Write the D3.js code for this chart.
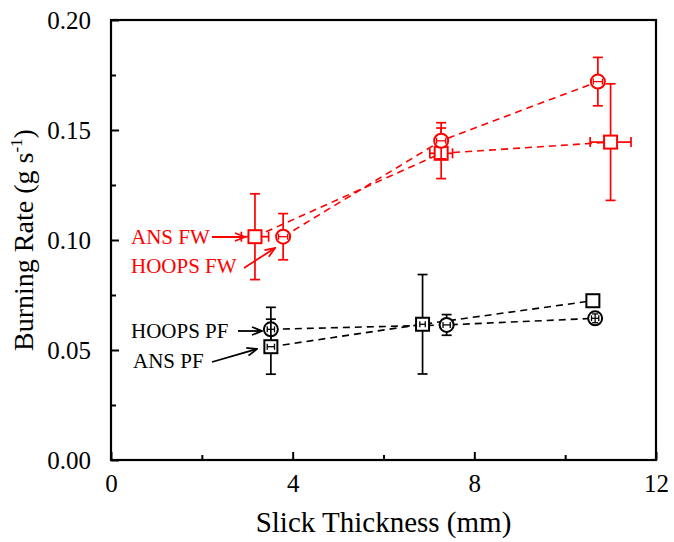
<!DOCTYPE html>
<html>
<head>
<meta charset="utf-8">
<script src="https://cdn.jsdelivr.net/npm/d3@7"></script>
<style>
  html, body { margin: 0; padding: 0; background: #fff; }
  svg { display: block; }
  text { font-family: "Liberation Serif", "Times New Roman", serif; }
</style>
</head>
<body>
<div id="chart"></div>
<script>
// Slick thickness (mm) and burning rate (g/s) for each case, with error bars
const ansFwX     = [3.17, 7.27, 11.0];
const ansFwY     = [0.1015, 0.1394, 0.1445];
const ansFwXErr  = [0.30, 0.25, 0.45];
const ansFwYErr  = [0.0195, 0.0115, 0.0265];

const hoopsFwX    = [3.79, 7.27, 10.72];
const hoopsFwY    = [0.1015, 0.1451, 0.172];
const hoopsFwXErr = [0.10, 0.10, 0.10];
const hoopsFwYErr = [0.0105, 0.0082, 0.011];

const hoopsPfX    = [3.52, 7.39, 10.66];
const hoopsPfY    = [0.0594, 0.0614, 0.0644];
const hoopsPfXErr = [0.08, 0.08, 0.08];
const hoopsPfYErr = [0.0100, 0.0047, 0.0020];

const ansPfX    = [3.52, 6.86, 10.61];
const ansPfY    = [0.0515, 0.0617, 0.0724];
const ansPfXErr = [0.08, 0.06, 0.0];
const ansPfYErr = [0.0125, 0.0226, 0.0];

const xTicks = [0, 4, 8, 12];
const xMinorTicks = [2, 6, 10];
const yTicks = [0.00, 0.05, 0.10, 0.15, 0.20];
const yMinorTicks = [0.025, 0.075, 0.125, 0.175];

const xTitle = "Slick Thickness (mm)";

const series = [
  { name: "ANS FW",   x: ansFwX,   y: ansFwY,   xe: ansFwXErr,   ye: ansFwYErr,   color: "#ff0000", shape: "square" },
  { name: "HOOPS FW", x: hoopsFwX, y: hoopsFwY, xe: hoopsFwXErr, ye: hoopsFwYErr, color: "#ff0000", shape: "circle" },
  { name: "HOOPS PF", x: hoopsPfX, y: hoopsPfY, xe: hoopsPfXErr, ye: hoopsPfYErr, color: "#000000", shape: "circle" },
  { name: "ANS PF",   x: ansPfX,   y: ansPfY,   xe: ansPfXErr,   ye: ansPfYErr,   color: "#000000", shape: "square" }
];

// Callout labels with arrows pointing at the first point of each series
const callouts = [
  { text: "ANS FW",   color: "#ff0000", tx: 131, ty: 244, from: [212, 237], to: [245, 237] },
  { text: "HOOPS FW", color: "#ff0000", tx: 131, ty: 273, from: [244, 268], to: [275, 248] },
  { text: "HOOPS PF", color: "#000000", tx: 131, ty: 338, from: [238, 331], to: [262, 331] },
  { text: "ANS PF",   color: "#000000", tx: 133, ty: 368, from: [212, 362], to: [257, 349] }
];

const W = 674, H = 542;
const margin = { left: 111, top: 20, right: 18, bottom: 82 };
const iw = W - margin.left - margin.right;
const ih = H - margin.top - margin.bottom;
const serif = "'Liberation Serif', 'Times New Roman', serif";

const svg = d3.select("#chart").append("svg").attr("width", W).attr("height", H);

// arrowhead definitions (open chevrons)
const defs = svg.append("defs");
["#ff0000", "#000000"].forEach((c, i) => {
  defs.append("marker")
    .attr("id", "arrow" + i)
    .attr("viewBox", "0 0 12 10")
    .attr("refX", 11).attr("refY", 5)
    .attr("markerWidth", 12).attr("markerHeight", 10)
    .attr("markerUnits", "userSpaceOnUse")
    .attr("orient", "auto")
    .append("path")
    .attr("d", "M1,1 L11,5 L1,9")
    .attr("fill", "none").attr("stroke", c).attr("stroke-width", 1.8);
});

const g = svg.append("g").attr("transform", `translate(${margin.left},${margin.top})`);

const x = d3.scaleLinear().domain([0, 12]).range([0, iw]);
const y = d3.scaleLinear().domain([0, 0.20]).range([ih, 0]);

// axes: major ticks point inward, minor ticks shorter
const styleAxis = sel => {
  sel.select(".domain").remove();
  sel.selectAll("line").attr("stroke", "#000").attr("stroke-width", 2);
};
g.append("g").attr("transform", `translate(0,${ih})`)
  .call(d3.axisBottom(x).tickValues(xTicks).tickSizeInner(-8).tickSizeOuter(0).tickPadding(14).tickFormat(d3.format("d")))
  .call(styleAxis)
  .selectAll("text").attr("font-size", 25).attr("fill", "#000").attr("font-family", serif);
g.append("g").attr("transform", `translate(0,${ih})`)
  .call(d3.axisBottom(x).tickValues(xMinorTicks).tickSizeInner(-5).tickSizeOuter(0).tickFormat(""))
  .call(styleAxis);
g.append("g")
  .call(d3.axisLeft(y).tickValues(yTicks).tickSizeInner(-8).tickSizeOuter(0).tickPadding(20).tickFormat(d3.format(".2f")))
  .call(styleAxis)
  .selectAll("text").attr("font-size", 25).attr("fill", "#000").attr("font-family", serif);
g.append("g")
  .call(d3.axisLeft(y).tickValues(yMinorTicks).tickSizeInner(-5).tickSizeOuter(0).tickFormat(""))
  .call(styleAxis);

// frame
g.append("rect").attr("x", 0).attr("y", 0).attr("width", iw).attr("height", ih)
  .attr("fill", "none").attr("stroke", "#000").attr("stroke-width", 2.2);

// axis titles
svg.append("text")
  .attr("x", margin.left + iw / 2).attr("y", 532)
  .attr("text-anchor", "middle").attr("font-size", 29).text(xTitle);
const yt = svg.append("text")
  .attr("transform", `translate(33,${margin.top + ih / 2}) rotate(-90)`)
  .attr("text-anchor", "middle").attr("font-size", 28);
yt.append("tspan").text("Burning Rate (g s");
yt.append("tspan").attr("font-size", 17).attr("dy", -11).text("-1");
yt.append("tspan").attr("dy", 11).text(")");

// dashed connecting lines
const line = d3.line().x(d => x(d[0])).y(d => y(d[1]));
series.forEach(s => {
  g.append("path")
    .datum(s.x.map((v, i) => [v, s.y[i]]))
    .attr("d", line)
    .attr("fill", "none").attr("stroke", s.color)
    .attr("stroke-width", 1.6).attr("stroke-dasharray", "7,5");
});

// error bars and markers
const half = { square: 6.5, circle: 7 };
const cap = 5;
series.forEach(s => {
  const sg = g.append("g").attr("stroke", s.color).attr("stroke-width", 1.7).attr("fill", "none");
  s.x.forEach((xv, i) => {
    const cx = x(xv), cy = y(s.y[i]);
    const h = half[s.shape];
    const dy = y(s.y[i] - s.ye[i]) - cy;
    const dx = x(xv + s.xe[i]) - cx;
    const inner = [];
    // y error bars
    if (dy > 0) {
      if (dy > h) {
        sg.append("line").attr("x1", cx).attr("x2", cx).attr("y1", cy - h).attr("y2", cy - dy);
        sg.append("line").attr("x1", cx).attr("x2", cx).attr("y1", cy + h).attr("y2", cy + dy);
      } else inner.push("y");
      [-dy, dy].forEach(o => sg.append("line")
        .attr("x1", cx - cap).attr("x2", cx + cap).attr("y1", cy + o).attr("y2", cy + o));
    }
    // x error bars
    if (dx > 0) {
      if (dx > h) {
        sg.append("line").attr("y1", cy).attr("y2", cy).attr("x1", cx - h).attr("x2", cx - dx);
        sg.append("line").attr("y1", cy).attr("y2", cy).attr("x1", cx + h).attr("x2", cx + dx);
      } else inner.push("x");
      [-dx, dx].forEach(o => sg.append("line")
        .attr("y1", cy - cap).attr("y2", cy + cap).attr("x1", cx + o).attr("x2", cx + o));
    }
    // marker
    if (s.shape === "square") {
      sg.append("rect").attr("x", cx - h).attr("y", cy - h).attr("width", 2 * h).attr("height", 2 * h)
        .attr("fill", "#fff").attr("stroke-width", 2);
    } else {
      sg.append("circle").attr("cx", cx).attr("cy", cy).attr("r", h)
        .attr("fill", "#fff").attr("stroke-width", 2);
    }
    // short error bars drawn inside the marker
    if (inner.includes("y")) {
      sg.append("line").attr("x1", cx).attr("x2", cx).attr("y1", cy - dy).attr("y2", cy + dy).attr("stroke-width", 1.3);
      [-dy, dy].forEach(o => sg.append("line").attr("stroke-width", 1.3)
        .attr("x1", cx - 3).attr("x2", cx + 3).attr("y1", cy + o).attr("y2", cy + o));
    }
    if (inner.includes("x")) {
      sg.append("line").attr("y1", cy).attr("y2", cy).attr("x1", cx - dx).attr("x2", cx + dx).attr("stroke-width", 1.3);
      [-dx, dx].forEach(o => sg.append("line").attr("stroke-width", 1.3)
        .attr("y1", cy - 3).attr("y2", cy + 3).attr("x1", cx + o).attr("x2", cx + o));
    }
  });
});

// callout labels
callouts.forEach(c => {
  svg.append("text").attr("x", c.tx).attr("y", c.ty).attr("font-size", 21)
    .attr("fill", c.color).text(c.text);
  svg.append("line")
    .attr("x1", c.from[0]).attr("y1", c.from[1]).attr("x2", c.to[0]).attr("y2", c.to[1])
    .attr("stroke", c.color).attr("stroke-width", 1.8)
    .attr("marker-end", `url(#arrow${c.color === "#ff0000" ? 0 : 1})`);
});
</script>
</body>
</html>
